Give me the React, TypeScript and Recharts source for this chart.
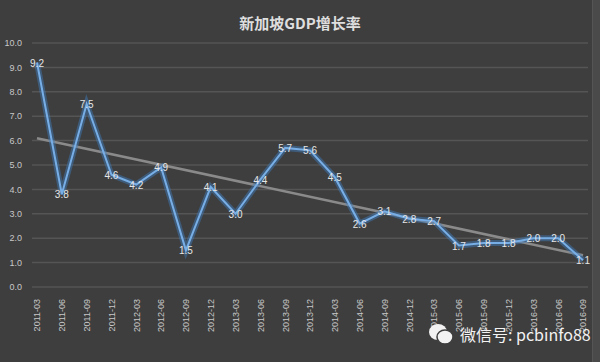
import React from "react";
import { LineChart, Line, XAxis, YAxis, CartesianGrid, LabelList } from "recharts";

const quarters = [
  "2011-03", "2011-06", "2011-09", "2011-12", "2012-03", "2012-06", "2012-09", "2012-12",
  "2013-03", "2013-06", "2013-09", "2013-12", "2014-03", "2014-06", "2014-09", "2014-12",
  "2015-03", "2015-06", "2015-09", "2015-12", "2016-03", "2016-06", "2016-09",
];
const growth = [
  9.2, 3.8, 7.5, 4.6, 4.2, 4.9, 1.5, 4.1, 3.0, 4.4, 5.7, 5.6,
  4.5, 2.6, 3.1, 2.8, 2.7, 1.7, 1.8, 1.8, 2.0, 2.0, 1.1,
];
// linear trend line, read at its two ends
const trendEnds = [6.1, 1.3];
const yTicks = [0, 1, 2, 3, 4, 5, 6, 7, 8, 9, 10];

const data = quarters.map((q, i) => ({
  q,
  gdp: growth[i],
  trend: i === 0 ? trendEnds[0] : i === quarters.length - 1 ? trendEnds[1] : null,
}));

const FONT = "'Liberation Sans', 'DejaVu Sans', sans-serif";

const PointLabel = (props: any) => {
  const { x, y, value } = props;
  return (
    <text x={x} y={y} dy={4} textAnchor="middle" fontSize={10} fill="#e6e6e6" fontFamily={FONT}>
      {Number(value).toFixed(1)}
    </text>
  );
};

export default function App() {
  return (
    <div style={{ position: "relative", width: 600, height: 362, background: "#3e3e3e", overflow: "hidden" }}>
      <style>{`body{margin:0}`}</style>
      <div
        style={{
          position: "absolute", top: 12, left: 0, width: 600, textAlign: "center",
          fontFamily: "'Noto Sans CJK SC', sans-serif", fontWeight: 700, fontSize: 15, color: "#dedede",
        }}
      >
        新加坡GDP增长率
      </div>
      <div style={{ position: "absolute", top: 0, right: 0, width: 7, height: 362, background: "#4a4a4a", borderLeft: "1px solid #555" }} />
      <LineChart width={600} height={362} data={data} margin={{ top: 43, right: 12, bottom: 0, left: 0 }}>
        <CartesianGrid vertical={false} stroke="#555555" strokeWidth={1.5} />
        <XAxis
          dataKey="q"
          interval={0}
          padding={{ left: 5, right: 5 }}
          axisLine={false}
          tickLine={false}
          height={75}
          angle={-90}
          textAnchor="end"
          dx={-3}
          dy={4}
          tick={{ fontSize: 9, fill: "#c8c8c8", fontFamily: FONT }}
        />
        <YAxis
          domain={[0, 10]}
          ticks={yTicks}
          width={32}
          axisLine={false}
          tickLine={false}
          tickMargin={4}
          tickFormatter={(v: number) => v.toFixed(1)}
          tick={{ fontSize: 9, fill: "#c8c8c8", fontFamily: FONT }}
        />
        <Line dataKey="trend" connectNulls stroke="#8a8a8a" strokeWidth={2.5} dot={false} isAnimationActive={false} />
        <Line dataKey="gdp" stroke="#3f7fc4" strokeOpacity={0.45} strokeWidth={6} dot={false} isAnimationActive={false} />
        <Line dataKey="gdp" stroke="#78aee6" strokeWidth={2} dot={false} isAnimationActive={false}>
          <LabelList dataKey="gdp" content={<PointLabel />} />
        </Line>
      </LineChart>
      <div
        style={{
          position: "absolute", left: 428, top: 322, display: "flex", alignItems: "center",
          fontFamily: "'Noto Sans CJK SC', sans-serif", fontSize: 16, color: "#f2f2f2",
        }}
      >
        <svg width={26} height={22} style={{ marginRight: 6 }}>
          <ellipse cx={10} cy={9} rx={9} ry={8} fill="#f2f2f2" />
          <ellipse cx={17} cy={14} rx={8} ry={7} fill="#f2f2f2" stroke="#3e3e3e" strokeWidth={1.5} />
        </svg>
        微信号: pcbinfo88
      </div>
    </div>
  );
}
